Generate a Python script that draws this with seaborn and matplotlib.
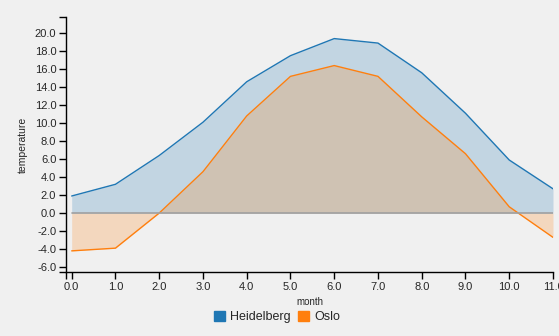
import matplotlib
matplotlib.use("Agg")
import matplotlib.pyplot as plt
from matplotlib.patches import Patch
import seaborn as sns
import pandas as pd
import numpy as np

months = [0, 1, 2, 3, 4, 5, 6, 7, 8, 9, 10, 11]
heidelberg = [1.9, 3.2, 6.4, 10.1, 14.6, 17.5, 19.4, 18.9, 15.6, 11.1, 5.9, 2.7]
oslo = [-4.2, -3.9, 0.0, 4.6, 10.8, 15.2, 16.4, 15.2, 10.7, 6.6, 0.7, -2.7]
cities = ["Heidelberg", "Oslo"]
colors = ["#1f77b4", "#ff7f0e"]
y_ticks = [-6, -4, -2, 0, 2, 4, 6, 8, 10, 12, 14, 16, 18, 20]

df = pd.DataFrame({
    "month": months * 2,
    "temperature": heidelberg + oslo,
    "city": [cities[0]] * len(months) + [cities[1]] * len(months),
})

sns.set_style("white")
plt.rcParams["font.family"] = ["Liberation Sans", "DejaVu Sans"]

W, H = 559, 336
fig = plt.figure(figsize=(W / 100, H / 100), dpi=100, facecolor="#f0f0f0")
ax = fig.add_axes([66 / W, 1 - 272 / H, (553 - 66) / W, (272 - 17) / H])
ax.set_facecolor("#f0f0f0")

for city, col in zip(cities, colors):
    sub = df[df.city == city]
    ax.fill_between(sub.month, 0, sub.temperature, color=col, alpha=0.22, linewidth=0)

sns.lineplot(data=df, x="month", y="temperature", hue="city", palette=colors,
             ax=ax, linewidth=1, legend=False)

ax.axhline(0, color="#a0a0a0", linewidth=1.2, xmin=(0 - (-0.13)) / 11.13, xmax=1)

ax.set_xlim(-0.13, 11)
ax.set_ylim(-6.55, 21.8)
ax.set_xticks(months)
ax.set_xticklabels([f"{m:.1f}" for m in months])
ax.set_yticks(y_ticks)
ax.set_yticklabels([f"{v:.1f}" for v in y_ticks])
ax.set_xticks([-0.13, 11], minor=True)
ax.set_yticks([-6.55, 21.8], minor=True)

for s in ["top", "right"]:
    ax.spines[s].set_visible(False)
for s in ["left", "bottom"]:
    ax.spines[s].set_color("black")
    ax.spines[s].set_linewidth(1)

ax.tick_params(which="both", direction="out", length=5, width=1, color="black",
               labelsize=8, pad=2, left=True, bottom=True)
ax.tick_params(which="minor", length=5)

ax.set_xlabel("month", fontsize=7, labelpad=4)
ax.set_ylabel("temperature", fontsize=7.5, labelpad=5)

handles = [Patch(facecolor=c, edgecolor=c) for c in colors]
fig.legend(handles, cities, loc="center", bbox_to_anchor=(277 / W, 1 - 317 / H),
           ncol=2, frameon=False, fontsize=9, handlelength=0.9, handleheight=0.9,
           handletextpad=0.4, columnspacing=0.6)

fig.savefig("out.png", dpi=100, facecolor=fig.get_facecolor())
